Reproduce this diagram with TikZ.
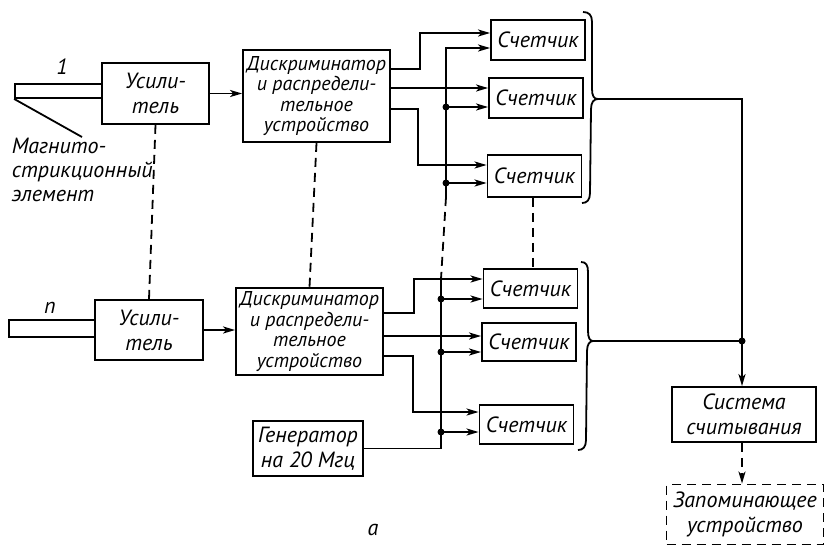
\documentclass[tikz,border=0pt]{standalone}
\usepackage{fontspec}
\setmainfont{PT Sans}
\usetikzlibrary{arrows.meta}
\begin{document}
\begin{tikzpicture}[x=1pt,y=-1pt, line width=1.8pt,
  box/.style={draw, inner sep=0pt, align=center, font=\fontsize{22}{25}\selectfont\itshape},
  discbox/.style={draw, inner sep=0pt, align=center, font=\fontsize{20}{20.5}\selectfont\itshape, minimum width=147pt},
  cnt/.style={box, minimum width=94pt, minimum height=40pt},
  arr/.style={-{Stealth[length=12pt,width=7pt,inset=3pt]}},
  dsh/.style={dash pattern=on 9pt off 6pt},
  txt/.style={font=\fontsize{22}{24}\selectfont\itshape, inner sep=0pt},
  mydot/.style={fill, circle, inner sep=0pt, minimum size=7pt}]
\useasboundingbox (0,0) rectangle (826,547);

% rods
\node[draw, inner sep=0pt, minimum width=87pt, minimum height=14pt] (rod1) at (58.5,91) {};
\node[draw, inner sep=0pt, minimum width=86pt, minimum height=17pt] (rod2) at (52,328.5) {};
\node[txt] (lab1) at (62,67) {1};
\node[txt] (labn) at (50,308) {п};

% amplifiers
\node[box, minimum width=107pt, minimum height=61pt] (amp1) at (155.5,93.5) {Усили-\\тель};
\node[box, minimum width=108pt, minimum height=60pt] (amp2) at (149,330) {Усили-\\тель};

% magnetostrictive label
\node[txt, align=left, anchor=north west] (mlab) at (11,137) {Магнито-\\стрикционный\\элемент};
\coordinate (mp) at (82,137);
\draw (rod1.south west) -- (mp);

% discriminators
\node[discbox, minimum height=92pt] (disc1) at (316.5,96) {Дискриминатор\\и распредели-\\тельное\\устройство};
\node[discbox, minimum height=87pt] (disc2) at (309.5,331.5) {Дискриминатор\\и распредели-\\тельное\\устройство};

% counters
\node[cnt] (c1) at (538,40) {Счетчик};
\node[cnt] (c2) at (536,98) {Счетчик};
\node[cnt, minimum height=42pt] (c3) at (534.5,176) {Счетчик};
\node[cnt, minimum height=39pt] (c4) at (530.5,288.5) {Счетчик};
\node[cnt, minimum height=38pt] (c5) at (529,342) {Счетчик};
\node[cnt, minimum height=39pt] (c6) at (526.5,424.5) {Счетчик};

% generator, readout, memory
\node[box, minimum width=110pt, minimum height=55pt] (gen) at (308,448.5) {Генератор\\на 20 Мгц};
\node[box, minimum width=144pt, minimum height=55pt] (sys) at (744,414.5) {Система\\считывания};
\node[box, dsh, minimum width=157pt, minimum height=60pt] (mem) at (745,514.5) {Запоминающее\\устройство};
\node[txt] (lab) at (373,530) {а};

% amp -> disc
\draw[arr] (amp1.east) -- (amp1.east -| disc1.west);
\draw[arr] (amp2.east) -- (amp2.east -| disc2.west);

% vertical dashed links
\draw[dsh] (amp1.south) -- (amp2.north);
\draw[dsh] (disc1.south) -- (disc2.north);
\draw[dsh] (c3.south -| 533,0) -- (c4.north -| 533,0);

% top disc outputs
\draw[arr] ([yshift=27pt]disc1.east) -- (420,69) -- (420,33) -- ([yshift=7pt]c1.west);
\draw[arr] ([yshift=8pt]disc1.east) -- ([yshift=10pt]c2.west);
\draw[arr] ([yshift=-13pt]disc1.east) -- (418,109) -- (418,165) -- ([yshift=11pt]c3.west);

% top clock bus
\coordinate (ct) at (446,197);
\coordinate (cb) at (441,279);
\draw[arr] (ct) -- (446,48) -- ([yshift=-8pt]c1.west);
\node[mydot] (d1) at (446,107) {};
\node[mydot] (d2) at (446,183) {};
\draw[arr] (d1.center) -- ([yshift=-9pt]c2.west);
\draw[arr] (d2.center) -- ([yshift=-7pt]c3.west);
\draw[dsh] (ct) -- (cb);

% lower disc outputs
\draw[arr] ([yshift=18.5pt]disc2.east) -- (414,313) -- (414,279) -- ([yshift=9.5pt]c4.west);
\draw[arr] ([yshift=-4.5pt]disc2.east) -- ([yshift=6pt]c5.west);
\draw[arr] ([yshift=-24.5pt]disc2.east) -- (413,356) -- (413,412) -- ([yshift=12.5pt]c6.west);

% lower clock bus
\draw (gen.east) -- (gen.east -| cb) -- (cb);
\node[mydot] (d3) at (441,299) {};
\node[mydot] (d4) at (441,352) {};
\node[mydot] (d5) at (441,432) {};
\draw[arr] (d3.center) -- ([yshift=-10.5pt]c4.west);
\draw[arr] (d4.center) -- ([yshift=-10pt]c5.west);
\draw[arr] (d5.center) -- ([yshift=-7.5pt]c6.west);

% braces
\coordinate (b1) at (598,99);
\coordinate (b2) at (593,341);
\draw (583,12) .. controls (589,12) and (592,15) .. (592,22) -- (592,89)
  .. controls (592,96) and (594,99) .. (b1)
  .. controls (594,99) and (591,102) .. (591,109) -- (590,193)
  .. controls (590,200) and (587,203) .. (582,203);
\draw (581,262) .. controls (586,262) and (588,265) .. (588,272) -- (588,331)
  .. controls (588,338) and (590,341) .. (b2)
  .. controls (590,341) and (587,344) .. (587,351) -- (586,440)
  .. controls (586,447) and (583,450) .. (578,450);

% to readout
\coordinate (j) at (742,341);
\draw (b1) -| (j);
\draw (b2) -- (j);
\node[mydot] (dj) at (j) {};
\draw[arr] (j) -- (j |- sys.north);
\draw[arr, dsh] (sys.south -| j) -- (mem.north -| j);
\end{tikzpicture}
\end{document}
